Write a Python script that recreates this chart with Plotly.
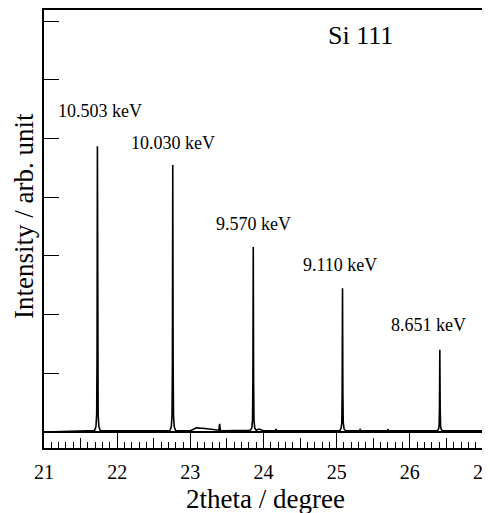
import plotly.graph_objects as go

# ---- data ----
two_theta = [21.00, 21.20, 21.40, 21.60, 21.69,
             21.710, 21.720, 21.725, 21.730, 21.735, 21.740, 21.750, 21.77,
             22.00, 22.30, 22.55, 22.72,
             22.740, 22.750, 22.755, 22.760, 22.765, 22.770, 22.780, 22.80,
             23.00, 23.05, 23.08, 23.20, 23.37, 23.39, 23.40, 23.41, 23.43,
             23.60, 23.82,
             23.840, 23.850, 23.855, 23.860, 23.865, 23.870, 23.880, 23.90,
             23.94, 24.00, 24.16, 24.17, 24.18, 24.50, 24.80, 25.04,
             25.060, 25.070, 25.075, 25.080, 25.085, 25.090, 25.100, 25.12,
             25.31, 25.32, 25.33, 25.50, 25.69, 25.70, 25.71, 26.00, 26.37,
             26.390, 26.400, 26.405, 26.410, 26.415, 26.420, 26.430, 26.45,
             26.70, 27.00]
intensity = [0.00, 0.01, 0.01, 0.02, 0.02,
             0.09, 0.30, 1.30, 4.87, 1.30, 0.30, 0.09, 0.02,
             0.02, 0.02, 0.02, 0.02,
             0.09, 0.28, 1.20, 4.55, 1.20, 0.28, 0.09, 0.02,
             0.02, 0.05, 0.07, 0.06, 0.03, 0.03, 0.14, 0.03, 0.02,
             0.02, 0.03,
             0.07, 0.20, 0.85, 3.15, 0.85, 0.20, 0.07, 0.03,
             0.05, 0.02, 0.02, 0.05, 0.02, 0.02, 0.02, 0.02,
             0.06, 0.16, 0.65, 2.45, 0.65, 0.16, 0.06, 0.02,
             0.02, 0.04, 0.02, 0.02, 0.02, 0.04, 0.02, 0.02, 0.02,
             0.04, 0.10, 0.38, 1.40, 0.38, 0.10, 0.04, 0.02,
             0.02, 0.02]

label_text = ["10.503 keV", "10.030 keV", "9.570 keV", "9.110 keV", "8.651 keV"]
label_x = [21.765, 22.763, 23.86, 25.045, 26.26]
label_y = [5.47, 4.93, 3.54, 2.845, 1.82]

x_major_ticks = [21, 22, 23, 24, 25, 26, 27]
x_mid_ticks = [21.5, 22.5, 23.5, 24.5, 25.5, 26.5]
y_ticks = [0, 1, 2, 3, 4, 5, 6, 7]

FONT = "Liberation Serif"

# page body adds an 8px offset; the plot frame should land at x 44..483, y 10..448
PAGE_OFF = 8
FRAME_L, FRAME_T, FRAME_W, FRAME_H = 44, 10, 439, 438

fig = go.Figure()
fig.add_trace(go.Scatter(x=two_theta, y=intensity, mode="lines",
                         line=dict(color="black", width=1.6),
                         showlegend=False, hoverinfo="skip"))
# empty trace so the secondary (mid-tick) axis is drawn
fig.add_trace(go.Scatter(x=[], y=[], xaxis="x2", showlegend=False))

for t, x, y in zip(label_text, label_x, label_y):
    fig.add_annotation(x=x, y=y, xref="x", yref="y", text=t, showarrow=False,
                       font=dict(family=FONT, size=18, color="black"),
                       xanchor="center", yanchor="middle")

fig.add_annotation(x=25.32, y=6.76, xref="x", yref="y", text="Si 111",
                   showarrow=False, font=dict(family=FONT, size=26, color="black"),
                   xanchor="center", yanchor="middle")

# axis titles
fig.add_annotation(x=(265 - FRAME_L) / FRAME_W, y=(FRAME_T + FRAME_H - 499) / FRAME_H,
                   xref="paper", yref="paper",
                   text="2theta / degree", showarrow=False,
                   font=dict(family=FONT, size=27, color="black"),
                   xanchor="center", yanchor="middle")
fig.add_annotation(x=(24 - FRAME_L) / FRAME_W, y=(FRAME_T + FRAME_H - 216) / FRAME_H,
                   xref="paper", yref="paper",
                   text="Intensity / arb. unit", showarrow=False, textangle=-90,
                   font=dict(family=FONT, size=27, color="black"),
                   xanchor="center", yanchor="middle")

W, H = 490, 513
ml = FRAME_L - PAGE_OFF
mt = FRAME_T - PAGE_OFF
fig.update_layout(
    width=W, height=H,
    margin=dict(l=ml, r=W - ml - FRAME_W, t=mt, b=H - mt - FRAME_H, autoexpand=False),
    paper_bgcolor="white", plot_bgcolor="white",
    font=dict(family=FONT, color="black"),
    xaxis=dict(range=[21, 27], tickvals=x_major_ticks,
               ticktext=[str(v) for v in x_major_ticks],
               ticks="inside", ticklen=16, tickwidth=1, tickcolor="black",
               minor=dict(dtick=0.1, ticklen=6, ticks="inside",
                          tickcolor="black", tickwidth=1, showgrid=False),
               showline=True, linecolor="black", linewidth=1.5, mirror=True,
               showgrid=False, zeroline=False, automargin=False,
               ticklabelstandoff=5,
               tickfont=dict(family=FONT, size=20, color="black")),
    xaxis2=dict(range=[21, 27], overlaying="x", anchor="y", side="bottom",
                tickvals=x_mid_ticks, ticks="inside", ticklen=10, tickwidth=1,
                tickcolor="black", showticklabels=False, showgrid=False,
                zeroline=False, showline=False, automargin=False),
    yaxis=dict(range=[-0.273, 7.19], tickvals=y_ticks, ticks="inside",
               ticklen=15, tickwidth=1, tickcolor="black", showticklabels=False,
               showline=True, linecolor="black", linewidth=1.5, mirror=True,
               showgrid=False, zeroline=True, zerolinecolor="black",
               zerolinewidth=1.5, automargin=False),
)

fig.write_html("out.html")
